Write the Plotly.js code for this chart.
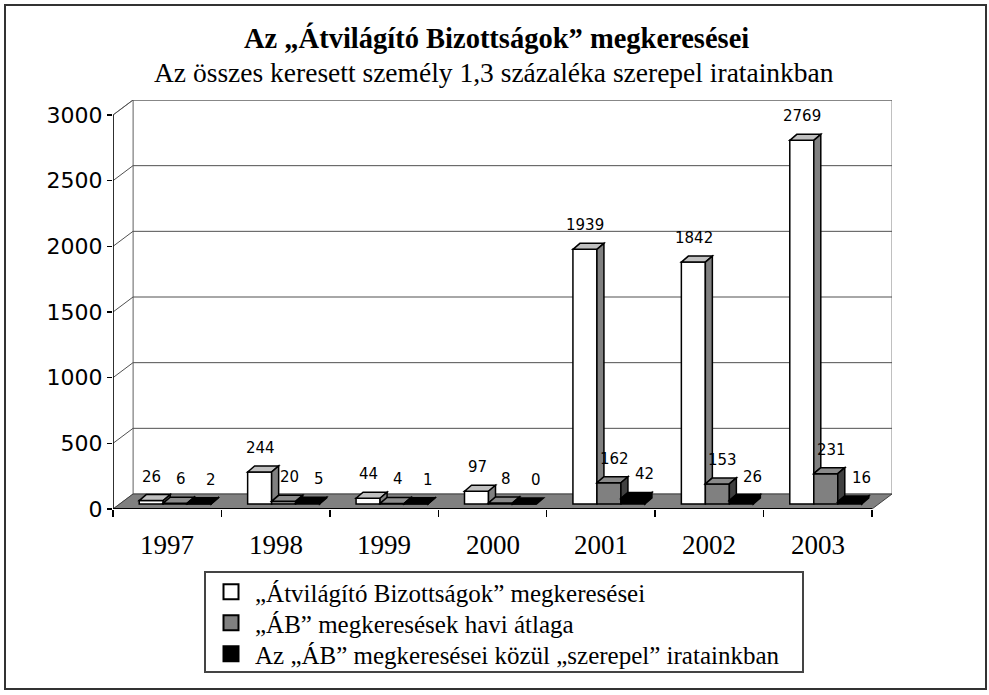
<!DOCTYPE html>
<html>
<head>
<meta charset="utf-8">
<script src="https://cdn.plot.ly/plotly-3.0.1.min.js"></script>
<style>
  body { margin: 0; background: #fff; }
  #chart { width: 989px; height: 695px; }
</style>
</head>
<body>
<div id="chart"></div>
<script>
// data
const years = ['1997', '1998', '1999', '2000', '2001', '2002', '2003'];
const requests = [26, 244, 44, 97, 1939, 1842, 2769];      // „Átvilágító Bizottságok” megkeresései
const monthlyAvg = [6, 20, 4, 8, 162, 153, 231];           // „ÁB” megkeresések havi átlaga
const inRecords = [2, 5, 1, 0, 42, 26, 16];                // közül „szerepel” iratainkban
const seriesNames = [
    '„Átvilágító Bizottságok” megkeresései',
    '„ÁB” megkeresések havi átlaga',
    'Az „ÁB” megkeresései közül „szerepel” iratainkban'
];
const yTicks = [0, 500, 1000, 1500, 2000, 2500, 3000];
const yMax = 3000;

// pixel geometry of the fake 3d box
const L = 113, R = 892, T = 100, B = 509;
const wallDxPx = 20, wallDyPx = 15;
const catPx = (R - L - wallDxPx) / years.length;
const valPx = (B - T - wallDyPx) / yMax;
const DX = wallDxPx / catPx, DY = wallDyPx / valPx;   // back wall offset
const BX = 8 / catPx, BY = 5 / valPx;                 // bars sit a bit into the floor
const BW = 24 / catPx;                                // bar width
const DDX = 7 / catPx, DDY = 6 / valPx;               // bar depth
const labelShift = [-3, 2, 8];                        // px, per series
const legendRows = [592, 623, 654];                   // px, one legend per series

const px2x = p => (p - L) / (R - L);
const py2y = p => (B - p) / (B - T);

function poly(pts, fill, lineColor, lineWidth, layer) {
    let d = 'M' + pts.map(p => p[0] + ',' + p[1]).join('L') + 'Z';
    return { type: 'path', xref: 'x', yref: 'y', path: d, fillcolor: fill,
             line: { color: lineColor, width: lineWidth }, layer: layer };
}
function seg(x0, y0, x1, y1, color, width, layer) {
    return { type: 'line', xref: 'x', yref: 'y', x0: x0, y0: y0, x1: x1, y1: y1,
             line: { color: color, width: width }, layer: layer };
}

const series = [requests, monthlyAvg, inRecords];
const fronts = ['#ffffff', '#808080', '#000000'];
const tops   = ['#c0c0c0', '#8a8a8a', '#000000'];
const sides  = ['#808080', '#404040', '#000000'];

let shapes = [];
// outer frame
shapes.push({ type: 'rect', xref: 'paper', yref: 'paper',
    x0: px2x(5), x1: px2x(986), y0: py2y(689), y1: py2y(5),
    line: { color: '#333', width: 2 }, layer: 'below' });
// legend frame
shapes.push({ type: 'rect', xref: 'paper', yref: 'paper',
    x0: px2x(205), x1: px2x(803), y0: py2y(672), y1: py2y(572),
    line: { color: '#444', width: 2 }, layer: 'below' });

const xl = -0.5, xr = years.length - 0.5;
// walls and floor
shapes.push(poly([[xl + DX, DY], [xr + DX, DY], [xr + DX, yMax + DY], [xl + DX, yMax + DY]], '#fff', '#808080', 1, 'below'));
shapes.push(poly([[xl, 0], [xl + DX, DY], [xl + DX, yMax + DY], [xl, yMax]], '#fff', '#808080', 1, 'below'));
yTicks.slice(1).forEach(v => {
    shapes.push(seg(xl + DX, v + DY, xr + DX, v + DY, '#505050', 1, 'below'));
    shapes.push(seg(xl, v, xl + DX, v + DY, '#505050', 1, 'below'));
});
shapes.push(poly([[xl, 0], [xr, 0], [xr + DX, DY], [xl + DX, DY]], '#808080', '#404040', 1, 'below'));
shapes.push(seg(xl, 0, xl, yMax, '#000', 1.5, 'below'));
shapes.push(seg(xl, 0, xr, 0, '#000', 2, 'below'));

// bar tops and sides
let annotations = [];
years.forEach((yr, i) => {
    series.forEach((vals, k) => {
        const x0 = i + BX + (k - 1) * BW - BW / 2, x1 = x0 + BW;
        const y0 = BY, y1 = BY + vals[i];
        shapes.push(poly([[x0, y1], [x0 + DDX, y1 + DDY], [x1 + DDX, y1 + DDY], [x1, y1]], tops[k], '#000', 1.5, 'above'));
        const bottom = k < 2 ? Math.max(y0, BY + series[k + 1][i]) : y0;
        if (y1 > bottom) {
            shapes.push(poly([[x1, bottom], [x1 + DDX, bottom + DDY], [x1 + DDX, y1 + DDY], [x1, y1]], sides[k], '#000', 1.5, 'above'));
        }
        annotations.push({ x: (x0 + x1) / 2 + DDX / 2, y: y1, xref: 'x', yref: 'y',
            text: String(vals[i]), showarrow: false, yanchor: 'middle', yshift: 24, xshift: labelShift[k],
            font: { family: 'DejaVu Sans', size: 15, color: '#000' } });
    });
    annotations.push({ x: i, y: 0, xref: 'x', yref: 'y', text: yr, showarrow: false,
        yanchor: 'middle', yshift: -36, font: { family: 'Liberation Serif', size: 27, color: '#000' } });
});

annotations.push({ x: px2x(496), y: py2y(38), xref: 'paper', yref: 'paper', showarrow: false,
    text: '<b>Az „Átvilágító Bizottságok” megkeresései</b>', yanchor: 'middle',
    font: { family: 'Liberation Serif', size: 28.5, color: '#000' } });
annotations.push({ x: px2x(494), y: py2y(73), xref: 'paper', yref: 'paper', showarrow: false,
    text: 'Az összes keresett személy 1,3 százaléka szerepel iratainkban', yanchor: 'middle',
    font: { family: 'Liberation Serif', size: 27.5, color: '#000' } });

// front faces of the bars
let traces = series.map((vals, k) => ({
    type: 'bar',
    name: seriesNames[k],
    x: years.map((yr, i) => i + BX + (k - 1) * BW),
    y: vals,
    base: BY,
    width: BW,
    marker: { color: fronts[k], line: { color: '#000', width: 1.5 } },
    showlegend: false,
    hoverinfo: 'skip'
}));
// legend entries with bigger square keys, one legend each so the rows sit where they should
seriesNames.forEach((name, k) => {
    traces.push({
        type: 'scatter', mode: 'markers', name: name, x: [null], y: [null],
        legend: k === 0 ? 'legend' : 'legend' + (k + 1),
        marker: { symbol: 'square', size: 15, color: fronts[k], line: { color: '#000', width: 2 } }
    });
});

let layout = {
    width: 989,
    height: 695,
    margin: { l: L, r: 989 - R, t: T, b: 695 - B, pad: 0 },
    paper_bgcolor: '#fff',
    plot_bgcolor: 'rgba(0,0,0,0)',
    barmode: 'overlay',
    hovermode: false,
    showlegend: true,
    xaxis: {
        range: [xl, xr + DX],
        tickmode: 'array',
        tickvals: years.map((yr, i) => i - 0.5).concat([xr]),
        showticklabels: false,
        ticks: 'outside', ticklen: 7, tickcolor: '#000', tickwidth: 1.5,
        showgrid: false, zeroline: false, showline: false, fixedrange: true
    },
    yaxis: {
        range: [0, yMax + DY],
        tickmode: 'array',
        tickvals: yTicks,
        ticktext: yTicks.map(String),
        ticks: 'outside', ticklen: 5, tickcolor: '#000', tickwidth: 1.5,
        tickfont: { family: 'DejaVu Sans', size: 22, color: '#000' },
        showgrid: false, zeroline: false, showline: false, fixedrange: true
    },
    shapes: shapes,
    annotations: annotations
};
legendRows.forEach((row, k) => {
    layout[k === 0 ? 'legend' : 'legend' + (k + 1)] = {
        x: px2x(207), y: py2y(row), xanchor: 'left', yanchor: 'middle',
        bgcolor: 'rgba(0,0,0,0)', borderwidth: 0, itemwidth: 38,
        font: { family: 'Liberation Serif', size: 25, color: '#000' }
    };
});

Plotly.newPlot('chart', traces, layout, { displayModeBar: false, staticPlot: true });
</script>
</body>
</html>
